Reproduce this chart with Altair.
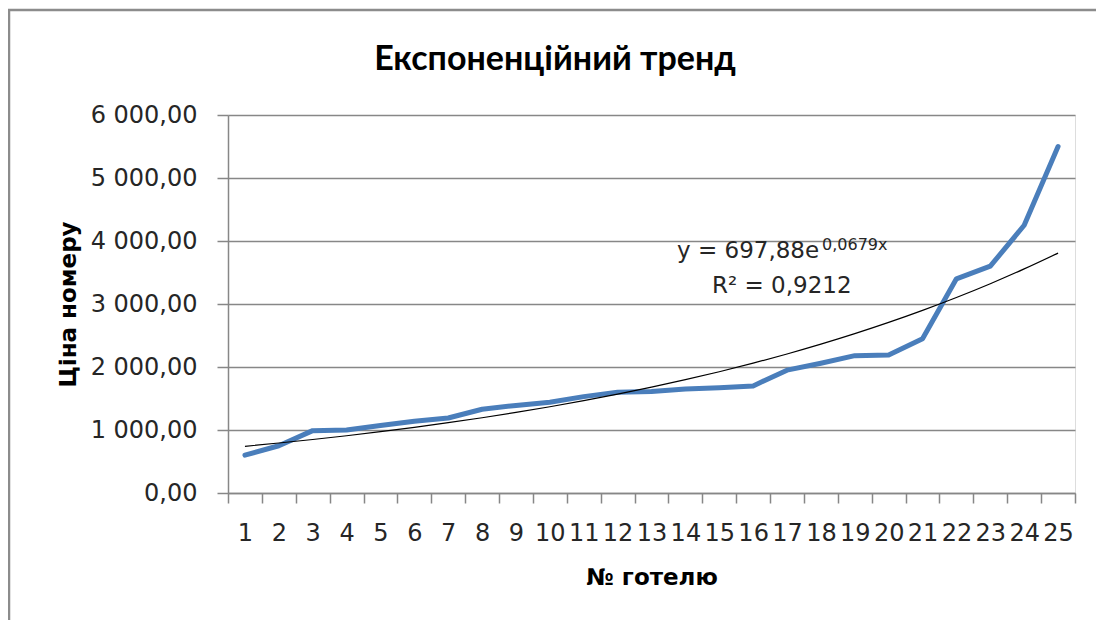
import altair as alt
import pandas as pd

hotels = list(range(1, 26))
prices = [600, 750, 990, 1000, 1070, 1140, 1190, 1330, 1390, 1440,
          1530, 1600, 1610, 1650, 1670, 1700, 1950, 2060, 2180, 2190,
          2450, 3400, 3600, 4250, 5500]
y_ticks = [0, 1000, 2000, 3000, 4000, 5000, 6000]
x_axis_values = [i / 2 for i in range(1, 52)]  # 0.5 .. 25.5

title_text = "Експоненційний тренд"
x_title = "№ готелю"
y_title = "Ціна номеру"
eq_main = "y = 697,88e"
eq_sup = "0,0679x"
r2_text = "R² = 0,9212"

FONT = "DejaVu Sans"
TFONT = "Lato"
GRID = "#878787"
TXT = "#262626"

df = pd.DataFrame({"hotel": hotels, "price": prices})

x_enc = alt.X(
    "hotel:Q",
    scale=alt.Scale(domain=[0.5, 25.5], nice=False, zero=False),
    axis=alt.Axis(
        values=x_axis_values,
        tickCount=100,
        labelExpr="datum.value % 1 === 0 ? '' + datum.value : ''",
        labelOverlap=False,
        labelFlush=False,
        tickOpacity={"condition": {"test": "datum.value % 1 === 0", "value": 0}, "value": 1},
        tickSize=10,
        tickColor=GRID,
        tickWidth=1.5,
        domainColor=GRID,
        domainWidth=1.5,
        grid=False,
        labelPadding=18,
        labelFontSize=24,
        labelFont=FONT,
        labelColor=TXT,
        title=x_title,
        titleFont=FONT,
        titleFontSize=23,
        titleFontWeight="bold",
        titleColor="#000000",
        titlePadding=21,
    ),
)

y_enc = alt.Y(
    "price:Q",
    scale=alt.Scale(domain=[0, 6000], nice=False),
    axis=alt.Axis(
        values=y_ticks,
        labelExpr="replace(replace(format(datum.value, ',.2f'), ',', ' '), '.', ',')",
        tickSize=11,
        tickColor=GRID,
        tickWidth=1.5,
        domainColor=GRID,
        domainWidth=1.5,
        gridColor=GRID,
        gridWidth=1.5,
        labelPadding=20,
        labelFontSize=24,
        labelFont=FONT,
        labelColor=TXT,
        title=y_title,
        titleFont=FONT,
        titleFontSize=23,
        titleFontWeight="bold",
        titleColor="#000000",
        titlePadding=10,
    ),
)

base = alt.Chart(df)

line = base.mark_line(color="#4a7ebb", strokeWidth=5, strokeCap="round", strokeJoin="round").encode(
    x=x_enc, y=y_enc
)

# Excel-style exponential trend: least squares on log(price)
trend = (
    base.transform_calculate(
        lp="log(datum.price)",
        x2="datum.hotel * datum.hotel",
        xlp="datum.hotel * log(datum.price)",
    )
    .transform_joinaggregate(
        mx="mean(hotel)", ml="mean(lp)", mx2="mean(x2)", mxl="mean(xlp)"
    )
    .transform_calculate(b="(datum.mxl - datum.mx * datum.ml) / (datum.mx2 - datum.mx * datum.mx)")
    .transform_calculate(trend="exp(datum.ml + datum.b * (datum.hotel - datum.mx))")
    .mark_line(color="#000000", strokeWidth=1.2, interpolate="monotone")
    .encode(x="hotel:Q", y="trend:Q")
)

def label(text, x, y, size, weight="normal", font=FONT, color=TXT, align="left"):
    return alt.Chart(pd.DataFrame({"t": [text]})).mark_text(
        align=align, baseline="alphabetic", font=font, fontSize=size,
        fontWeight=weight, color=color
    ).encode(x=alt.value(x), y=alt.value(y), text="t:N")

eq1 = label(eq_main, 449, 143, 23)
eq2 = label(eq_sup, 594, 135, 16)
eq3 = label(r2_text, 484, 178, 23)
title = label(title_text, 327, -45, 34, weight="bold", font=TFONT, color="#000000", align="center")

frame_top = alt.Chart(pd.DataFrame({"t": [0]})).mark_rule(color="#8c8c8c", strokeWidth=2.5).encode(
    x=alt.value(-225), x2=alt.value(880), y=alt.value(-105)
)
frame_left = alt.Chart(pd.DataFrame({"t": [0]})).mark_rule(color="#8c8c8c", strokeWidth=2.5).encode(
    x=alt.value(-219), y=alt.value(-105), y2=alt.value(520)
)

chart = alt.layer(line, trend, eq1, eq2, eq3, title, frame_top, frame_left).properties(
    width=847,
    height=378,
    padding={"left": 220, "top": 107, "right": 21, "bottom": 127},
    autosize=alt.AutoSizeParams(type="none"),
).configure_view(stroke=None).configure(background="white")

chart.save("out.html", embed_options={"renderer": "svg", "actions": False})
